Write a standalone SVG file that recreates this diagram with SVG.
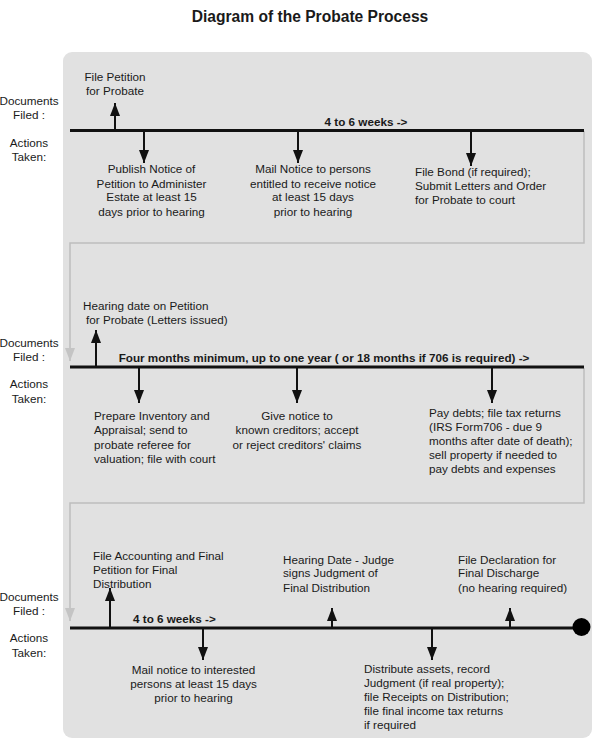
<svg xmlns="http://www.w3.org/2000/svg" width="600" height="746" viewBox="0 0 600 746">
<defs>
<style>
text{font-family:"Liberation Sans",Arial,sans-serif;font-size:11.7px;fill:#1a1a1a}
.b{font-weight:bold}
.t{font-weight:bold;font-size:15.6px}
.m{text-anchor:middle}
.tl{stroke:#111;stroke-width:3;fill:none}
.ar{stroke:#111;stroke-width:2;fill:none;marker-end:url(#ah)}
.gc{stroke:#bdbdbd;stroke-width:1.5;fill:none;marker-end:url(#gh)}
</style>
<marker id="ah" markerUnits="userSpaceOnUse" markerWidth="13" markerHeight="10" refX="13" refY="5" orient="auto" viewBox="0 0 13 10"><path d="M0,0 L13,5 L0,10 z" fill="#111"/></marker>
<marker id="gh" markerUnits="userSpaceOnUse" markerWidth="13" markerHeight="10" refX="13" refY="5" orient="auto" viewBox="0 0 13 10"><path d="M0,0 L13,5 L0,10 z" fill="#c4c4c4"/></marker>
</defs>
<rect width="600" height="746" fill="#fff"/>
<text class="t m" x="310" y="21.5">Diagram of the Probate Process</text>
<rect id="panel" x="63" y="52" width="529" height="686" rx="9" fill="#e1e1e1"/>
<g id="connectors">
<path class="gc" d="M584,131 V243 H70 V361"/>
<path class="gc" d="M584,368 V503 H70 V621"/>
<line class="ar" x1="115" y1="130" x2="115" y2="103"/>
<line class="ar" x1="144" y1="130" x2="144" y2="163"/>
<line class="ar" x1="298" y1="130" x2="298" y2="163"/>
<line class="ar" x1="471" y1="130" x2="471" y2="166"/>
<line class="ar" x1="96" y1="367" x2="96" y2="330"/>
<line class="ar" x1="139" y1="367" x2="139" y2="403"/>
<line class="ar" x1="297" y1="367" x2="297" y2="403"/>
<line class="ar" x1="492" y1="367" x2="492" y2="403"/>
<line class="ar" x1="110" y1="628" x2="110" y2="588"/>
<line class="ar" x1="332" y1="628" x2="332" y2="608"/>
<line class="ar" x1="510" y1="628" x2="510" y2="608"/>
<line class="ar" x1="203" y1="628" x2="203" y2="660"/>
<line class="ar" x1="432" y1="628" x2="432" y2="660"/>
</g>
<g id="timeline1">
<line class="tl" x1="70" y1="130.5" x2="584" y2="130.5"/>
<text class="b m" x="366" y="126">4 to 6 weeks -&gt;</text>
</g>
<g id="timeline2">
<line class="tl" x1="70" y1="367" x2="584" y2="367"/>
<text class="b m" x="324" y="362">Four months minimum, up to one year ( or 18 months if 706 is required) -&gt;</text>
</g>
<g id="timeline3">
<line class="tl" x1="70" y1="628" x2="580" y2="628"/>
<circle cx="581.5" cy="627" r="9" fill="#000"/>
<text class="b" x="133" y="623">4 to 6 weeks -&gt;</text>
</g>
<g id="labels1">
<text class="m" x="29" y="105">Documents</text>
<text class="m" x="29" y="119">Filed :</text>
<text class="m" x="29" y="147">Actions</text>
<text class="m" x="29" y="161">Taken:</text>
</g>
<g id="labels2">
<text class="m" x="29" y="346.5">Documents</text>
<text class="m" x="29" y="361">Filed :</text>
<text class="m" x="29" y="388">Actions</text>
<text class="m" x="29" y="402.5">Taken:</text>
</g>
<g id="labels3">
<text class="m" x="29" y="601">Documents</text>
<text class="m" x="29" y="614.5">Filed :</text>
<text class="m" x="29" y="642">Actions</text>
<text class="m" x="29" y="656.5">Taken:</text>
</g>
<g id="n1"><text class="m" x="115" y="81">File Petition</text><text class="m" x="115" y="95">for Probate</text></g>
<g id="n2"><text class="m" x="151.5" y="173">Publish Notice of</text><text class="m" x="151.5" y="187.5">Petition to Administer</text><text class="m" x="151.5" y="201">Estate at least 15</text><text class="m" x="151.5" y="216">days prior to hearing</text></g>
<g id="n3"><text class="m" x="313" y="173">Mail Notice to persons</text><text class="m" x="313" y="187.5">entitled to receive notice</text><text class="m" x="313" y="201">at least 15 days</text><text class="m" x="313" y="216">prior to hearing</text></g>
<g id="n4"><text x="415" y="176">File Bond (if required);</text><text x="415" y="190">Submit Letters and Order</text><text x="415" y="204">for Probate to court</text></g>
<g id="n5"><text x="83" y="310">Hearing date on Petition</text><text x="86" y="324">for Probate (Letters issued)</text></g>
<g id="n6"><text x="94" y="420">Prepare Inventory and</text><text x="94" y="434">Appraisal; send to</text><text x="94" y="448.5">probate referee for</text><text x="94" y="463">valuation; file with court</text></g>
<g id="n7"><text class="m" x="297" y="420">Give notice to</text><text class="m" x="297" y="434">known creditors; accept</text><text class="m" x="297" y="448.5">or reject creditors' claims</text></g>
<g id="n8"><text x="429" y="416.5">Pay debts; file tax returns</text><text x="429" y="431">(IRS Form706 - due 9</text><text x="429" y="445">months after date of death);</text><text x="429" y="458.5">sell property if needed to</text><text x="429" y="473">pay debts and expenses</text></g>
<g id="n9"><text x="93" y="560">File Accounting and Final</text><text x="93" y="574">Petition for Final</text><text x="93" y="588">Distribution</text></g>
<g id="n10"><text x="283" y="563.5">Hearing Date - Judge</text><text x="283" y="577">signs Judgment of</text><text x="283" y="591.5">Final Distribution</text></g>
<g id="n11"><text x="458" y="563.5">File Declaration for</text><text x="458" y="577">Final Discharge</text><text x="458" y="591.5">(no hearing required)</text></g>
<g id="n12"><text class="m" x="193.5" y="673.5">Mail notice to interested</text><text class="m" x="193.5" y="687.5">persons at least 15 days</text><text class="m" x="193.5" y="701.5">prior to hearing</text></g>
<g id="n13"><text x="364" y="672.5">Distribute assets, record</text><text x="364" y="686.5">Judgment (if real property);</text><text x="364" y="700.5">file Receipts on Distribution;</text><text x="364" y="714.5">file final income tax returns</text><text x="364" y="728.5">if required</text></g>
</svg>
